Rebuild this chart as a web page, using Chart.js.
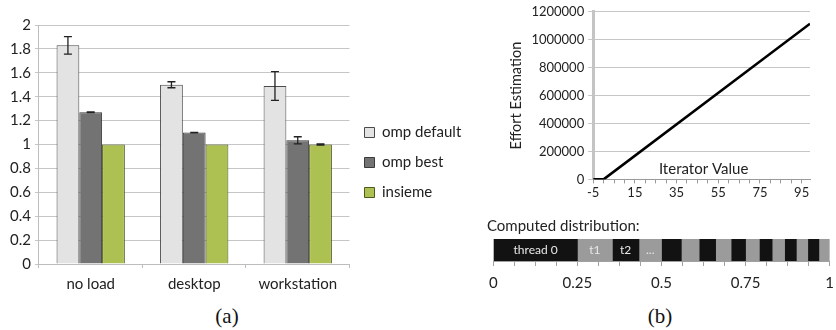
<!DOCTYPE html>
<html>
<head>
<meta charset="utf-8">
<script src="https://cdn.jsdelivr.net/npm/chart.js@4"></script>
<style>
  body { margin: 0; background: #fff; }
  #wrap { position: relative; width: 836px; height: 330px; overflow: hidden; background: #fff; }
  .box { position: absolute; }
  .cap { position: absolute; font-family: "Liberation Serif", "DejaVu Serif", serif; font-size: 21px; color: #111; transform: translateX(-50%); }
</style>
</head>
<body>
<div id="wrap">
  <div class="box" style="left:0;top:0"><canvas id="chart-bars" width="470" height="300"></canvas></div>
  <div class="box" style="left:506px;top:0"><canvas id="chart-effort" width="314" height="203"></canvas></div>
  <div class="box" style="left:481px;top:215px"><canvas id="chart-dist" width="361" height="85"></canvas></div>
  <div class="cap" style="left:227px;top:304px">(a)</div>
  <div class="cap" style="left:660px;top:304px">(b)</div>
</div>
<script>
// (a) normalised runtimes
const groups = ['no load', 'desktop', 'workstation'];
const ompDefault = [1.83, 1.50, 1.49];
const ompDefaultErr = [0.073, 0.025, 0.12];
const ompBest = [1.27, 1.10, 1.035];
const ompBestErr = [0.003, 0.002, 0.03];
const insieme = [1.0, 1.0, 1.0];
const insiemeErr = [0, 0, 0.004];

// (b) effort estimation per iterator value
const iterValues = [-5, 0, 99];
const effortValues = [0, 0, 1115000];

// (b) computed distribution, chunk boundaries in [0,1]
const splitPoints = [0, 0.25, 0.354, 0.433, 0.5, 0.559, 0.612, 0.661, 0.707, 0.75, 0.791, 0.829, 0.866, 0.901, 0.935, 0.968, 1];
const segLabels = ['thread 0', 't1', 't2', '...'];

const FONT = 'Lato, "Open Sans", sans-serif';
const GRID = '#c6c6c6';

const errorBars = {
  id: 'errorBars',
  afterDatasetsDraw(chart) {
    const ctx = chart.ctx;
    const y = chart.scales.y;
    chart.data.datasets.forEach((ds, i) => {
      if (!ds.errors) return;
      const meta = chart.getDatasetMeta(i);
      meta.data.forEach((bar, j) => {
        const e = ds.errors[j];
        if (!e) return;
        const top = y.getPixelForValue(ds.data[j] + e);
        const bot = y.getPixelForValue(ds.data[j] - e);
        ctx.save();
        ctx.strokeStyle = '#222';
        ctx.lineWidth = 1.3;
        ctx.beginPath();
        ctx.moveTo(bar.x, top); ctx.lineTo(bar.x, bot);
        ctx.moveTo(bar.x - 4, top); ctx.lineTo(bar.x + 4, top);
        ctx.moveTo(bar.x - 4, bot); ctx.lineTo(bar.x + 4, bot);
        ctx.stroke();
        ctx.restore();
      });
    });
  }
};

new Chart(document.getElementById('chart-bars'), {
  type: 'bar',
  data: {
    labels: groups,
    datasets: [
      { label: 'omp default', data: ompDefault, errors: ompDefaultErr, backgroundColor: '#e3e3e3', borderColor: '#4a4a4a', borderWidth: 1 },
      { label: 'omp best', data: ompBest, errors: ompBestErr, backgroundColor: '#737373', borderColor: '#3a3a3a', borderWidth: 1 },
      { label: 'insieme', data: insieme, errors: insiemeErr, backgroundColor: '#adc152', borderColor: '#4d5a1c', borderWidth: 1 }
    ]
  },
  options: {
    responsive: false,
    animation: false,
    layout: { padding: { top: 25, left: 6, right: 6 } },
    datasets: { bar: { categoryPercentage: 0.66, barPercentage: 1 } },
    plugins: {
      tooltip: { enabled: false },
      legend: {
        position: 'right',
        labels: { boxWidth: 10, boxHeight: 10, padding: 15, color: '#222', font: { family: FONT, size: 15 } }
      }
    },
    scales: {
      x: {
        grid: { offset: true, drawOnChartArea: false, tickLength: 4, color: '#bdbdbd' },
        border: { color: '#bdbdbd' },
        ticks: { color: '#222', padding: 7, font: { family: FONT, size: 15 } }
      },
      y: {
        min: 0, max: 2,
        ticks: {
          stepSize: 0.2, color: '#222', padding: 4, font: { family: FONT, size: 15 },
          callback: v => String(Math.round(v * 10) / 10)
        },
        grid: { color: GRID, tickLength: 4 },
        border: { color: '#bdbdbd' }
      }
    }
  },
  plugins: [errorBars]
});

const innerTitle = {
  id: 'innerTitle',
  afterDraw(chart) {
    const a = chart.chartArea;
    const ctx = chart.ctx;
    ctx.save();
    ctx.fillStyle = '#222';
    ctx.font = '15px ' + FONT;
    ctx.textAlign = 'center';
    ctx.textBaseline = 'middle';
    ctx.fillText('Iterator Value', (a.left + a.right) / 2 + 2, a.bottom - 10);
    ctx.restore();
  }
};

new Chart(document.getElementById('chart-effort'), {
  type: 'line',
  data: {
    datasets: [{
      label: 'effort',
      data: iterValues.map((x, i) => ({ x, y: effortValues[i] })),
      borderColor: '#000',
      borderWidth: 2.6,
      pointRadius: 0,
      tension: 0
    }]
  },
  options: {
    responsive: false,
    animation: false,
    layout: { padding: { top: 4, right: 10 } },
    plugins: { legend: { display: false }, tooltip: { enabled: false } },
    scales: {
      x: {
        type: 'linear', min: -5, max: 99,
        grid: { drawOnChartArea: false, tickLength: 4, color: '#9a9a9a' },
        border: { color: '#9a9a9a' },
        ticks: {
          stepSize: 5, autoSkip: false, includeBounds: false, maxRotation: 0, color: '#222', padding: 2,
          font: { family: FONT, size: 13 },
          callback: v => ((v + 5) % 20 === 0 ? String(v) : '')
        }
      },
      y: {
        min: 0, max: 1200000,
        title: { display: true, text: 'Effort Estimation', color: '#222', font: { family: FONT, size: 14.5 }, padding: 2 },
        ticks: { stepSize: 200000, color: '#222', padding: 4, font: { family: FONT, size: 13 }, callback: v => String(v) },
        grid: { color: GRID, tickLength: 5 },
        border: { color: '#c4c4c4', width: 3 }
      }
    }
  },
  plugins: [innerTitle]
});

const segNames = {
  id: 'segNames',
  afterDatasetsDraw(chart) {
    const ctx = chart.ctx;
    ctx.save();
    ctx.fillStyle = '#e8e8e8';
    ctx.font = '12px ' + FONT;
    ctx.textAlign = 'center';
    ctx.textBaseline = 'middle';
    segLabels.forEach((t, i) => {
      const bar = chart.getDatasetMeta(i).data[0];
      ctx.fillText(t, (bar.x + bar.base) / 2, bar.y);
    });
    ctx.restore();
  }
};

new Chart(document.getElementById('chart-dist'), {
  type: 'bar',
  data: {
    labels: ['dist'],
    datasets: splitPoints.slice(1).map((end, i) => ({
      label: 'chunk ' + i,
      data: [[splitPoints[i], end]],
      backgroundColor: i % 2 === 0 ? '#121212' : '#9b9b9b',
      grouped: false
    }))
  },
  options: {
    indexAxis: 'y',
    responsive: false,
    animation: false,
    layout: { padding: { left: 6, right: 0 } },
    datasets: { bar: { categoryPercentage: 1, barPercentage: 1 } },
    plugins: {
      legend: { display: false },
      tooltip: { enabled: false },
      title: {
        display: true, align: 'start', text: 'Computed distribution:', color: '#222',
        font: { family: FONT, size: 15, weight: 'normal' }, padding: { top: 2, bottom: 4 }
      }
    },
    scales: {
      x: {
        min: 0, max: 1,
        grid: { drawOnChartArea: false, tickLength: 5, color: '#a0a0a0' },
        border: { color: '#a0a0a0' },
        ticks: {
          stepSize: 0.0625, autoSkip: false, maxRotation: 0, color: '#222', padding: 8,
          font: { family: FONT, size: 15 },
          callback: v => (Math.abs(v * 4 - Math.round(v * 4)) < 1e-9 ? String(v) : '')
        }
      },
      y: { display: false }
    }
  },
  plugins: [segNames]
});
</script>
</body>
</html>
